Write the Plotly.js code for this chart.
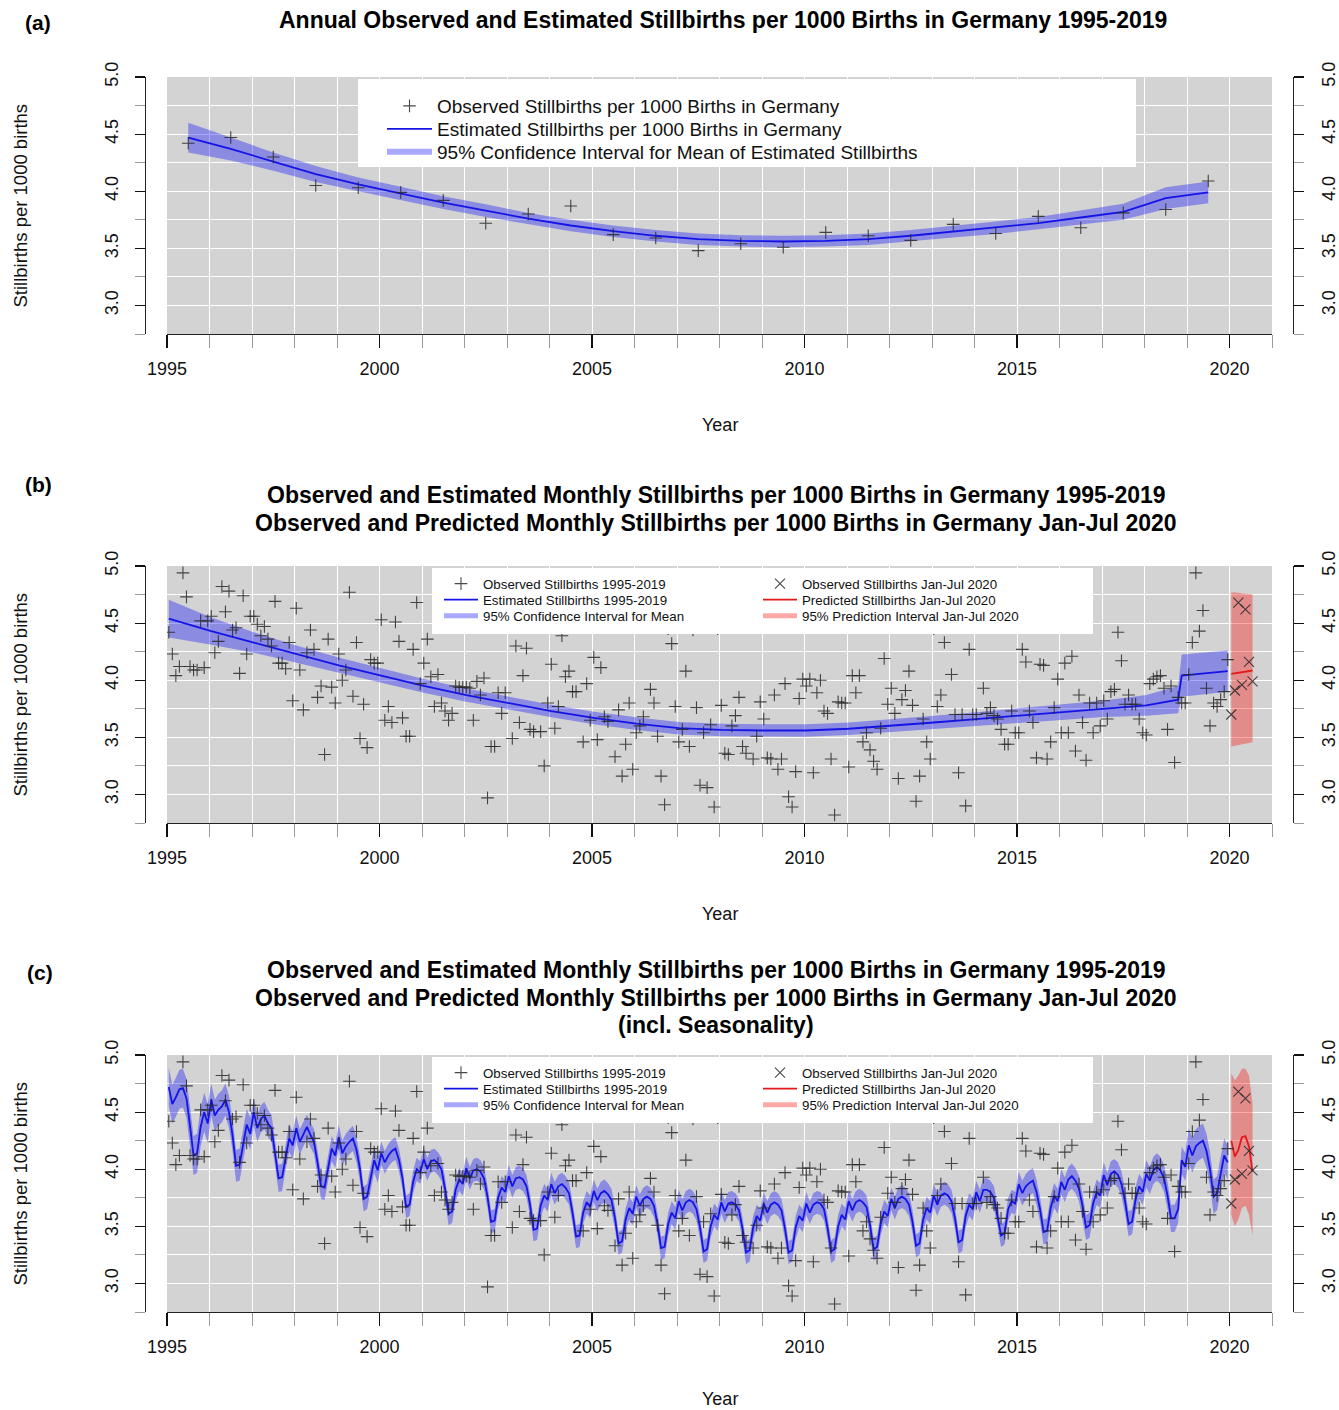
<!DOCTYPE html>
<html>
<head>
<meta charset="utf-8">
<script src="https://cdn.plot.ly/plotly-3.0.1.min.js"></script>
<style>
html,body{margin:0;padding:0;background:#fff;}
#chart{width:1339px;height:1410px;}
</style>
</head>
<body>
<div id="chart"></div>
<script>
// ---------------- DATA ----------------
const annualYears = [1995,1996,1997,1998,1999,2000,2001,2002,2003,2004,2005,2006,2007,2008,2009,2010,2011,2012,2013,2014,2015,2016,2017,2018,2019];
const annualObserved = [4.42,4.47,4.30,4.05,4.03,3.99,3.92,3.72,3.80,3.87,3.62,3.59,3.48,3.54,3.51,3.64,3.61,3.57,3.71,3.63,3.78,3.68,3.81,3.84,4.09];
const annualEstimated = [4.47,4.37,4.26,4.15,4.06,3.98,3.90,3.83,3.76,3.70,3.65,3.61,3.58,3.565,3.56,3.565,3.58,3.61,3.645,3.68,3.72,3.77,3.82,3.94,3.99];
const annualCIHalf = [0.13,0.10,0.08,0.07,0.06,0.06,0.055,0.055,0.05,0.05,0.05,0.05,0.05,0.05,0.05,0.05,0.05,0.05,0.05,0.055,0.055,0.06,0.07,0.095,0.095];

const monthlyObserved = [
 4.42,4.23,4.04,4.12,4.94,4.73,4.12,4.09,4.09,4.52,4.11,4.52,
 4.56,4.24,4.34,4.82,4.60,4.78,4.44,4.46,4.06,4.74,4.23,4.56,
 4.56,4.49,4.39,4.47,4.36,4.30,4.69,4.15,4.15,4.10,4.33,3.82,
 4.63,4.09,3.74,4.24,4.44,4.27,3.85,3.95,3.35,4.36,3.94,3.80,
 4.23,4.00,4.09,4.77,3.86,4.33,3.49,3.79,3.41,4.18,4.15,4.15,
 4.53,3.65,3.77,3.63,4.51,4.34,3.67,3.51,3.51,4.27,4.68,3.97,
 4.15,4.36,4.03,3.77,4.05,3.80,3.73,3.65,3.71,3.95,3.94,3.94,
 3.94,3.93,3.65,3.99,3.87,4.02,2.97,3.42,3.42,3.89,3.71,3.89,
 4.55,3.49,4.30,3.63,4.04,4.28,3.57,3.55,4.50,3.55,3.25,3.80,
 4.14,3.58,3.77,4.39,4.03,4.08,3.90,3.90,4.48,3.46,3.97,3.65,
 4.20,3.48,4.11,3.68,3.64,4.46,3.33,3.74,3.16,3.44,3.80,3.22,
 3.54,3.60,3.68,4.50,3.92,3.80,3.51,3.16,2.91,4.45,4.32,3.77,
 3.46,3.57,4.08,3.42,4.44,3.76,3.08,3.54,3.06,3.61,2.89,4.45,
 3.78,3.36,3.35,3.60,3.69,3.85,3.42,3.36,4.46,3.31,3.51,3.81,
 3.66,3.32,3.31,3.87,3.22,3.31,3.97,2.98,2.89,3.20,3.84,4.01,
 3.95,4.01,3.19,3.89,4.00,3.73,3.71,3.31,2.82,3.81,3.80,3.80,
 3.24,4.04,3.89,4.04,3.46,3.54,3.39,3.29,3.22,3.58,4.19,3.79,
 3.93,3.71,3.14,3.83,3.91,4.08,3.78,2.94,3.16,3.66,3.46,3.31,
 4.45,3.77,3.87,4.33,4.50,4.05,3.70,3.19,3.70,2.90,4.27,3.70,
 3.70,4.47,3.93,3.71,3.76,3.69,3.66,3.57,3.44,3.44,3.73,3.54,
 3.54,4.27,4.16,3.73,3.63,3.32,4.14,4.13,3.31,3.46,3.76,4.01,
 3.54,4.15,3.54,4.21,3.38,3.87,3.63,3.30,3.80,3.54,3.80,3.60,
 3.82,3.66,3.90,3.92,4.42,4.17,3.79,3.87,3.79,3.79,3.66,3.54,
 3.52,3.97,4.01,4.03,4.04,3.93,3.57,3.95,3.28,3.85,3.80,3.80,
 4.05,4.33,4.94,4.43,4.61,3.93,3.60,3.80,3.77,3.83,3.90,4.18
];

// trend (panel b): month index since Jan 1995 at knots, values and CI half widths
const trendKnotMonths = [0,12,24,36,48,60,72,84,96,108,120,132,144,156,168,180,192,204,216,228,240,252,264,276,285,286,299];
const trendKnotValues = [4.54,4.43,4.33,4.23,4.13,4.04,3.95,3.87,3.80,3.73,3.67,3.62,3.58,3.565,3.56,3.56,3.575,3.60,3.63,3.66,3.69,3.72,3.75,3.78,3.83,4.04,4.08];
const trendKnotCIHalf = [0.165,0.12,0.09,0.075,0.068,0.063,0.06,0.058,0.056,0.055,0.055,0.055,0.055,0.055,0.055,0.055,0.055,0.056,0.058,0.06,0.063,0.067,0.073,0.09,0.12,0.185,0.18];

// seasonal model (panel c), monthly
const seasonalEstimated = [
 4.72,4.57,4.63,4.70,4.71,4.62,4.38,4.12,4.14,4.37,4.50,4.40,
 4.61,4.47,4.52,4.55,4.61,4.50,4.30,4.03,4.04,4.21,4.39,4.31,
 4.50,4.36,4.44,4.47,4.40,4.36,4.15,3.92,3.93,4.12,4.27,4.21,
 4.36,4.24,4.31,4.37,4.30,4.24,4.06,3.85,3.84,4.01,4.18,4.12,
 4.28,4.14,4.20,4.24,4.27,4.17,4.00,3.74,3.76,3.92,4.08,3.99,
 4.14,4.06,4.12,4.16,4.18,4.08,3.92,3.67,3.69,3.89,4.00,3.97,
 4.09,4.00,4.07,4.08,4.05,4.00,3.83,3.61,3.63,3.82,3.91,3.87,
 4.01,3.92,3.99,4.00,3.98,3.92,3.76,3.54,3.55,3.75,3.84,3.80,
 3.94,3.85,3.92,3.93,3.91,3.85,3.69,3.47,3.48,3.68,3.77,3.73,
 3.87,3.79,3.85,3.87,3.84,3.79,3.62,3.41,3.42,3.62,3.71,3.67,
 3.81,3.73,3.79,3.81,3.78,3.73,3.57,3.35,3.37,3.56,3.66,3.61,
 3.76,3.68,3.74,3.76,3.74,3.68,3.52,3.31,3.32,3.52,3.62,3.57,
 3.72,3.64,3.71,3.73,3.71,3.65,3.49,3.28,3.30,3.50,3.60,3.56,
 3.71,3.63,3.70,3.71,3.69,3.64,3.48,3.27,3.29,3.49,3.59,3.55,
 3.70,3.62,3.69,3.71,3.69,3.64,3.48,3.27,3.29,3.49,3.59,3.55,
 3.70,3.62,3.69,3.71,3.70,3.65,3.49,3.28,3.30,3.50,3.60,3.56,
 3.72,3.64,3.71,3.73,3.71,3.67,3.51,3.30,3.32,3.52,3.63,3.59,
 3.74,3.66,3.74,3.76,3.74,3.69,3.54,3.33,3.35,3.56,3.66,3.62,
 3.77,3.69,3.77,3.79,3.77,3.72,3.57,3.36,3.38,3.59,3.69,3.65,
 3.80,3.72,3.82,3.82,3.80,3.75,3.60,3.42,3.44,3.65,3.72,3.70,
 3.87,3.79,3.85,3.88,3.90,3.80,3.65,3.45,3.46,3.66,3.77,3.72,
 3.89,3.82,3.91,3.94,3.90,3.83,3.68,3.49,3.51,3.70,3.80,3.77,
 3.95,3.86,3.96,3.98,3.95,3.87,3.72,3.52,3.54,3.74,3.85,3.80,
 3.96,3.90,3.99,4.02,3.99,3.92,3.77,3.57,3.57,3.65,4.08,4.02,
 4.21,4.12,4.20,4.23,4.25,4.16,4.00,3.76,3.79,3.97,4.12,4.06
];
const seasonalCIHalfByYear = [0.17,0.14,0.12,0.11,0.11,0.10,0.10,0.10,0.10,0.10,0.10,0.10,0.10,0.10,0.10,0.10,0.10,0.10,0.10,0.10,0.11,0.11,0.11,0.12,0.15];

// 2020 (Jan-Jul)
const months2020 = [0,1,2,3,4,5,6];
const observed2020 = [3.70,3.91,4.68,3.96,4.62,4.16,3.99];
const predTrend2020 = [4.055,4.06,4.065,4.07,4.075,4.08,4.085];
const predTrendUpper2020 = [4.77,4.77,4.765,4.76,4.76,4.755,4.75];
const predTrendLower2020 = [3.42,3.425,3.43,3.44,3.445,3.45,3.46];
const predSeasonal2020 = [4.25,4.11,4.17,4.28,4.29,4.20,3.98];
const predSeasonalUpper2020 = [4.84,4.78,4.82,4.88,4.88,4.82,4.58];
const predSeasonalLower2020 = [3.60,3.50,3.56,3.66,3.68,3.60,3.42];

// legend texts
const legendA = ['Observed Stillbirths per 1000 Births in Germany', 'Estimated Stillbirths per 1000 Births in Germany', '95% Confidence Interval for Mean of Estimated Stillbirths'];
const legendLeft = ['Observed Stillbirths 1995-2019', 'Estimated Stillbirths 1995-2019', '95% Confidence Interval for Mean'];
const legendRight = ['Observed Stillbirths Jan-Jul 2020', 'Predicted Stillbirths Jan-Jul 2020', '95% Prediction Interval Jan-Jul 2020'];

// ---------------- STYLE / HELPERS ----------------
const W = 1339, H = 1410;
const FONT = 'Liberation Sans, Arial, Helvetica, sans-serif';
const BG = '#d3d3d3';
const BLUE = '#1414e6';
const BLUE_BAND = 'rgba(0,0,255,0.34)';
const RED = '#e41a1a';
const RED_BAND = 'rgba(255,0,0,0.34)';
const MARK = 'rgba(40,40,40,0.85)';
const px = v => v / W;
const py = v => 1 - v / H;
const monthX = i => 1995 + (i + 0.5) / 12;
const month2020X = m => 2020 + (m + 0.5) / 12;
const midYear = y => y + 0.5;

const layout = {
  width:W, height:H, margin:{l:0,r:0,t:0,b:0},
  paper_bgcolor:'#ffffff', plot_bgcolor:BG,
  font:{family:FONT, color:'#000'},
  showlegend:true, annotations:[], shapes:[]
};

// one legend per entry so that the entries can be placed exactly
let legCount = 0;
function newLegend(symbolX, centerY, size, itemwidth) {
  legCount += 1;
  const id = legCount === 1 ? 'legend' : 'legend' + legCount;
  layout[id] = {x:px(symbolX - 20), y:py(centerY), xanchor:'left', yanchor:'middle',
    bgcolor:'rgba(0,0,0,0)', borderwidth:0, itemwidth:itemwidth,
    font:{family:FONT, size:size, color:'#111'}, itemclick:false, itemdoubleclick:false};
  return id;
}

function band(xs, up, lo, color, xa, ya) {
  return {x: xs.concat(xs.slice().reverse()), y: up.concat(lo.slice().reverse()),
    type:'scatter', mode:'lines', fill:'toself', fillcolor: color, line:{width:0, color:color},
    hoverinfo:'skip', showlegend:false, xaxis:xa, yaxis:ya};
}
function legendLine(name, color, width, leg) {
  return {x:[null], y:[null], type:'scatter', mode:'lines', name:name,
    line:{color:color, width:width}, legend:leg, hoverinfo:'skip'};
}

const traces = [];

// ---------- Panel (a)
const aX = annualYears.map(midYear);
const aLeg = [newLegend(402,106,19,45), newLegend(402,129,19,45), newLegend(402,152,19,45)];
traces.push(band(aX, annualEstimated.map((v,i)=>v+annualCIHalf[i]), annualEstimated.map((v,i)=>v-annualCIHalf[i]), BLUE_BAND, 'x', 'y'));
traces.push({x:aX, y:annualEstimated, type:'scatter', mode:'lines', line:{color:BLUE, width:1.8},
  name:legendA[1], legend:aLeg[1], xaxis:'x', yaxis:'y'});
traces.push({x:aX, y:annualObserved, type:'scatter', mode:'markers',
  marker:{symbol:'cross-thin-open', size:9, line:{color:MARK, width:1.1}, color:MARK},
  name:legendA[0], legend:aLeg[0], xaxis:'x', yaxis:'y'});
traces.push(legendLine(legendA[2], 'rgba(0,0,255,0.34)', 6, aLeg[2]));

// ---------- Panels (b) and (c)
const mX = monthlyObserved.map((v,i)=>monthX(i));
const kX = trendKnotMonths.map(monthX);
const p20X = months2020.map(month2020X);

function monthlyPanel(xa, ya, lineX, lineY, up, lo, predY, predUp, predLo, legTop) {
  const L = [newLegend(459,legTop,13.3,34), newLegend(459,legTop+16,13.3,34), newLegend(459,legTop+32,13.3,34)];
  const R = [newLegend(778,legTop,13.3,34), newLegend(778,legTop+16,13.3,34), newLegend(778,legTop+32,13.3,34)];
  traces.push(band(lineX, up, lo, BLUE_BAND, xa, ya));
  traces.push(band(p20X, predUp, predLo, RED_BAND, xa, ya));
  traces.push({x:lineX, y:lineY, type:'scatter', mode:'lines', line:{color:BLUE, width:1.8},
    name:legendLeft[1], legend:L[1], xaxis:xa, yaxis:ya});
  traces.push({x:p20X, y:predY, type:'scatter', mode:'lines', line:{color:RED, width:1.8},
    name:legendRight[1], legend:R[1], xaxis:xa, yaxis:ya});
  traces.push({x:mX, y:monthlyObserved, type:'scatter', mode:'markers',
    marker:{symbol:'cross-thin-open', size:9, line:{color:MARK, width:1.1}, color:MARK},
    name:legendLeft[0], legend:L[0], xaxis:xa, yaxis:ya});
  traces.push({x:p20X, y:observed2020, type:'scatter', mode:'markers',
    marker:{symbol:'x-thin-open', size:10, line:{color:MARK, width:1.1}, color:MARK},
    name:legendRight[0], legend:R[0], xaxis:xa, yaxis:ya});
  traces.push(legendLine(legendLeft[2], 'rgba(0,0,255,0.34)', 5, L[2]));
  traces.push(legendLine(legendRight[2], 'rgba(255,0,0,0.34)', 5, R[2]));
}
monthlyPanel('x2','y2', kX, trendKnotValues,
  trendKnotValues.map((v,i)=>v+trendKnotCIHalf[i]), trendKnotValues.map((v,i)=>v-trendKnotCIHalf[i]),
  predTrend2020, predTrendUpper2020, predTrendLower2020, 584);
monthlyPanel('x3','y3', mX, seasonalEstimated,
  seasonalEstimated.map((v,i)=>v+seasonalCIHalfByYear[Math.floor(i/12)]),
  seasonalEstimated.map((v,i)=>v-seasonalCIHalfByYear[Math.floor(i/12)]),
  predSeasonal2020, predSeasonalUpper2020, predSeasonalLower2020, 1073);

// ---------------- AXES ----------------
const panels = [
  {top:77, bottom:334},
  {top:566, bottom:823},
  {top:1055, bottom:1312}
];
const xDom = [px(167), px(1272)];
panels.forEach((p, k) => {
  const n = k === 0 ? '' : String(k+1);
  const yd = [py(p.bottom), py(p.top)];
  layout['xaxis'+n] = {
    domain:xDom, range:[1995,2021], anchor:'y'+n, fixedrange:true,
    tickmode:'linear', tick0:1995, dtick:5, ticks:'outside', ticklen:13, tickwidth:1.2, tickcolor:'#111',
    showline:true, linecolor:'#222', linewidth:1.2, showgrid:true, gridcolor:'#ffffff', gridwidth:1, zeroline:false,
    tickfont:{family:FONT, size:18, color:'#111'}, ticklabelstandoff:5,
    minor:{tickmode:'linear', tick0:1995, dtick:1, ticks:'outside', ticklen:13, tickcolor:'#9a9a9a', tickwidth:1, showgrid:true, gridcolor:'#ffffff', gridwidth:1}
  };
  layout['yaxis'+n] = {
    domain:yd, range:[2.75,5.0], anchor:'free', position:px(145), side:'left', fixedrange:true,
    tickmode:'linear', tick0:3, dtick:0.5, tickformat:'.1f', ticks:'outside', ticklen:10, tickwidth:1.2, tickcolor:'#111',
    showline:true, linecolor:'#222', linewidth:1.2, showgrid:true, gridcolor:'#ffffff', gridwidth:1, zeroline:false,
    tickangle:-90, tickfont:{family:FONT, size:18, color:'#111'}, ticklabelstandoff:10,
    minor:{tickmode:'linear', tick0:2.75, dtick:0.25, ticks:'outside', ticklen:10, tickcolor:'#9a9a9a', tickwidth:1, showgrid:true, gridcolor:'#ffffff', gridwidth:1}
  };
  const rn = String(k+4);
  layout['yaxis'+rn] = {
    overlaying:'y'+n, range:[2.75,5.0], anchor:'free', position:px(1293), side:'right', fixedrange:true,
    tickmode:'linear', tick0:3, dtick:0.5, tickformat:'.1f', ticks:'outside', ticklen:10, tickwidth:1.2, tickcolor:'#111',
    showline:true, linecolor:'#222', linewidth:1.2, showgrid:false, zeroline:false,
    tickangle:-90, tickfont:{family:FONT, size:18, color:'#111'}, ticklabelstandoff:9,
    minor:{tickmode:'linear', tick0:2.75, dtick:0.25, ticks:'outside', ticklen:10, tickcolor:'#9a9a9a', tickwidth:1, showgrid:false}
  };
  layout.annotations.push({xref:'paper', yref:'paper', x:px(720), y:py(Math.min(p.bottom+91, 1399)), text:'Year', showarrow:false,
    xanchor:'center', yanchor:'middle', font:{family:FONT, size:18, color:'#111'}});
  layout.annotations.push({xref:'paper', yref:'paper', x:px(20), y:py((p.top+p.bottom)/2), text:'Stillbirths per 1000 births', showarrow:false,
    textangle:-90, xanchor:'center', yanchor:'middle', font:{family:FONT, size:18.5, color:'#111'}});
});
// invisible traces so the right-hand axes render
['y4','y5','y6'].forEach((ya,k)=>{
  traces.push({x:[null], y:[null], type:'scatter', mode:'markers', xaxis: k===0?'x':'x'+(k+1), yaxis:ya, showlegend:false, hoverinfo:'skip'});
});

// titles and panel labels
const titleFont = {family:FONT, size:23, color:'#000'};
function ann(x, y, text, font) {
  layout.annotations.push({xref:'paper', yref:'paper', x:px(x), y:py(y), text:text, showarrow:false,
    xanchor:'center', yanchor:'middle', font:font});
}
ann(723, 20, '<b>Annual Observed and Estimated Stillbirths per 1000 Births in Germany 1995-2019</b>', titleFont);
ann(716, 495, '<b>Observed and Estimated Monthly Stillbirths per 1000 Births in Germany 1995-2019</b>', titleFont);
ann(716, 523, '<b>Observed and Predicted Monthly Stillbirths per 1000 Births in Germany Jan-Jul 2020</b>', titleFont);
ann(716, 970, '<b>Observed and Estimated Monthly Stillbirths per 1000 Births in Germany 1995-2019</b>', titleFont);
ann(716, 998, '<b>Observed and Predicted Monthly Stillbirths per 1000 Births in Germany Jan-Jul 2020</b>', titleFont);
ann(716, 1025, '<b>(incl. Seasonality)</b>', titleFont);
const labFont = {family:FONT, size:21, color:'#000'};
ann(38, 22, '<b>(a)</b>', labFont);
ann(38, 484, '<b>(b)</b>', labFont);
ann(40, 972, '<b>(c)</b>', labFont);

// legend boxes (white, covering the plot)
function box(x0,y0,x1,y1){ layout.shapes.push({type:'rect', xref:'paper', yref:'paper', x0:px(x0), x1:px(x1), y0:py(y1), y1:py(y0),
  fillcolor:'#ffffff', line:{width:0}, layer:'above'}); }
box(358,79,1136,167);
box(432,568,1093,634);
box(432,1057,1093,1123);

Plotly.newPlot('chart', traces, layout, {displayModeBar:false, staticPlot:true});
</script>
</body>
</html>
